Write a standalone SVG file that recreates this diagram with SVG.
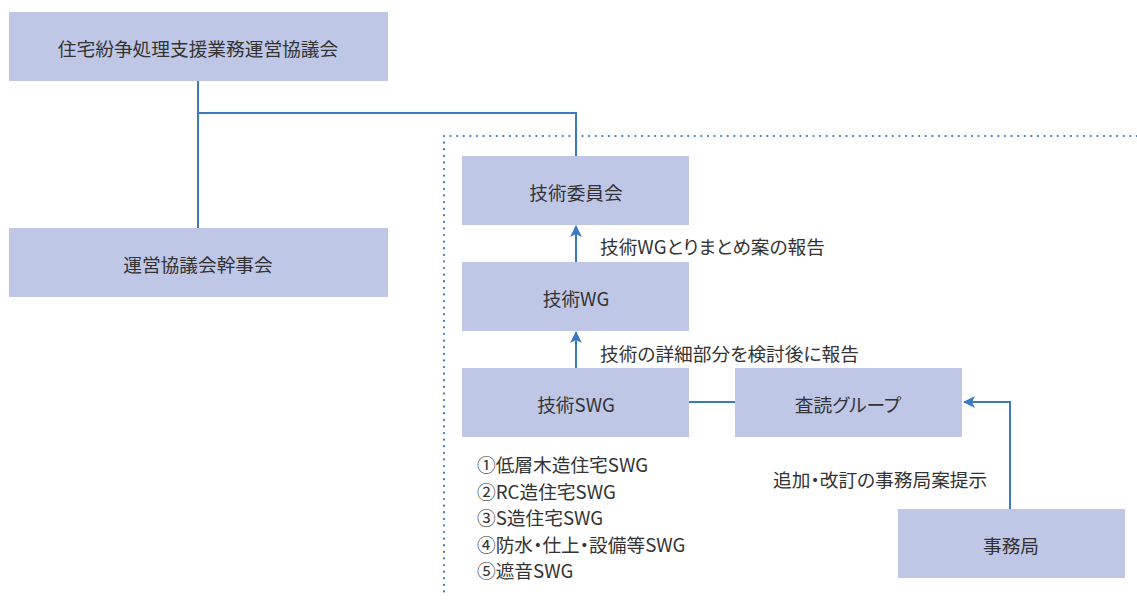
<svg xmlns="http://www.w3.org/2000/svg" width="1137" height="601" viewBox="0 0 1137 601">
<defs>
<style>
.box{fill:#bec8e6}
.t{font-family:"Noto Sans CJK JP","Noto Sans",sans-serif;font-size:18.7px;fill:#333;dominant-baseline:central;font-feature-settings:"palt"}
.c{text-anchor:middle}
.ln{stroke:#3a7bc0;stroke-width:2;fill:none}
.dot{stroke:#3a7bc0;stroke-width:2.2;fill:none;stroke-dasharray:0.1 6.5;stroke-linecap:round}
</style>
<marker id="ah" viewBox="0 0 12 12" refX="11" refY="6" markerWidth="12" markerHeight="12" markerUnits="userSpaceOnUse" orient="auto">
<path d="M0,0 L12,6 L0,12 L3,6 Z" fill="#3a7bc0"/>
</marker>
</defs>
<rect width="1137" height="601" fill="#fff"/>
<g id="connectors">
<path class="dot" d="M1137,136 H444 V598"/>
<path class="ln" d="M198,80 V228"/>
<path class="ln" d="M198,113 H576 V156"/>
<path class="ln" d="M576,262 V226" marker-end="url(#ah)"/>
<path class="ln" d="M576,368 V332" marker-end="url(#ah)"/>
<path class="ln" d="M689,402 H735"/>
<path class="ln" d="M1010,509 V402 H964" marker-end="url(#ah)"/>
</g>
<g id="n1"><rect class="box" x="9" y="12" width="379" height="69"/><text class="t c" x="198" y="47">住宅紛争処理支援業務運営協議会</text></g>
<g id="n2"><rect class="box" x="9" y="228" width="379" height="69"/><text class="t c" x="198" y="263">運営協議会幹事会</text></g>
<g id="n3"><rect class="box" x="462" y="156" width="227" height="69"/><text class="t c" x="576" y="191">技術委員会</text></g>
<g id="n4"><rect class="box" x="462" y="262" width="227" height="69"/><text class="t c" x="576" y="297">技術WG</text></g>
<g id="n5"><rect class="box" x="462" y="368" width="227" height="69"/><text class="t c" x="576" y="403">技術SWG</text></g>
<g id="n6"><rect class="box" x="735" y="368" width="227" height="69"/><text class="t c" x="848" y="403">査読グループ</text></g>
<g id="n7"><rect class="box" x="898" y="509" width="227" height="69"/><text class="t c" x="1011" y="544">事務局</text></g>
<g id="labels">
<text class="t" x="600" y="245">技術WGとりまとめ案の報告</text>
<text class="t" x="600" y="352">技術の詳細部分を検討後に報告</text>
<text class="t" x="773" y="478">追加・改訂の事務局案提示</text>
<text class="t" x="477" y="463">①低層木造住宅SWG</text>
<text class="t" x="477" y="490">②RC造住宅SWG</text>
<text class="t" x="477" y="516">③S造住宅SWG</text>
<text class="t" x="477" y="543">④防水・仕上・設備等SWG</text>
<text class="t" x="477" y="569">⑤遮音SWG</text>
</g>
</svg>
